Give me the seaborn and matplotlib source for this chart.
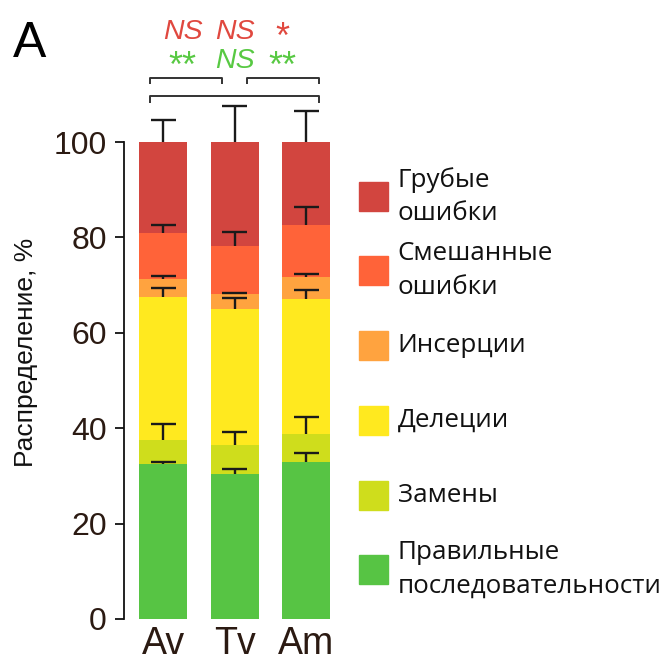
import matplotlib
matplotlib.use("Agg")
import matplotlib.pyplot as plt
import seaborn as sns
import pandas as pd
from matplotlib.patches import Rectangle

# Groups and error categories (bottom to top of each stack)
groups = ["Av", "Tv", "Am"]
categories = ["Правильные\nпоследовательности", "Замены", "Делеции",
              "Инсерции", "Смешанные\nошибки", "Грубые\nошибки"]
colors = ["#57C444", "#CFDD1C", "#FFE91F", "#FFA33F", "#FF6339", "#D2453F"]

# Share of each category, %
correct = [32.5, 30.4, 32.9]
substitutions = [5.1, 6.1, 5.9]
deletions = [30.0, 28.4, 28.2]
insertions = [3.7, 3.2, 4.7]
mixed = [9.7, 10.2, 11.0]
gross = [19.0, 21.7, 17.3]

# Upper error (SEM) for each category
err_correct = [0.4, 1.0, 1.8]
err_substitutions = [3.2, 2.7, 3.5]
err_deletions = [1.8, 2.4, 2.0]
err_insertions = [0.7, 0.3, 0.6]
err_mixed = [1.7, 2.8, 3.7]
err_gross = [4.6, 7.5, 6.6]

# Significance marks between pairs
stars_red = ["NS", "NS", "*"]
stars_green = ["**", "NS", "**"]

values = [correct, substitutions, deletions, insertions, mixed, gross]
errors = [err_correct, err_substitutions, err_deletions, err_insertions, err_mixed, err_gross]

sns.set_style("white")
plt.rcParams["font.family"] = ["Liberation Sans", "DejaVu Sans"]

W, H = 665, 664
fig = plt.figure(figsize=(W / 100, H / 100), dpi=100)
ax = fig.add_axes([124 / W, (H - 619) / H, 221.6 / W, 477 / H])

# cumulative tops of every segment
cum = []
run = [0.0, 0.0, 0.0]
for v in values:
    run = [a + b for a, b in zip(run, v)]
    cum.append(run)

rows = []
for ci, cat in enumerate(categories):
    for gi, g in enumerate(groups):
        rows.append({"group": g, "pos": gi, "category": cat,
                     "top": cum[ci][gi], "err": errors[ci][gi]})
df = pd.DataFrame(rows)

# draw stacks from the top-most segment down so lower ones overlay
for ci in reversed(range(len(categories))):
    sub = df[df["category"] == categories[ci]]
    sns.barplot(data=sub, x="group", y="top", color=colors[ci], order=groups,
                width=0.67, saturation=1, errorbar=None, linewidth=0, ax=ax)

# one-sided error bars: stem up from each segment top, single cap
cap_half = 0.175
for ci in range(len(categories)):
    sub = df[df["category"] == categories[ci]]
    hi = sub["top"] + sub["err"]
    ax.vlines(sub["pos"], sub["top"], hi, color="#1a1a1a", lw=1.7,
              clip_on=False, zorder=5)
    ax.hlines(hi, sub["pos"] - cap_half, sub["pos"] + cap_half,
              color="#1a1a1a", lw=1.7, clip_on=False, zorder=5)

ax.set_xlim(-0.55, 2.55)
ax.set_ylim(0, 100)
ax.set_yticks([0, 20, 40, 60, 80, 100])
ax.tick_params(axis="y", length=6.5, width=1.3, pad=6, labelsize=23,
               labelcolor="#2b1a12", color="#111111", left=True)
ax.tick_params(axis="x", length=0, pad=5, labelsize=27, labelcolor="#2b1a12")
for s in ["top", "right", "bottom"]:
    ax.spines[s].set_visible(False)
ax.spines["left"].set_bounds(0, 100)
ax.spines["left"].set_color("#111111")
ax.spines["left"].set_linewidth(1.3)
ax.set_xlabel("")
ax.set_ylabel("Распределение, %", fontsize=19, color="#111111")
ax.yaxis.set_label_coords(-0.39, 0.56)

# comparison brackets
bk = dict(color="#333333", lw=1.4, clip_on=False, solid_capstyle="butt")
ax.plot([-0.19, -0.19, 0.82, 0.82], [112.1, 113.4, 113.4, 112.1], **bk)
ax.plot([1.17, 1.17, 2.18, 2.18], [112.1, 113.4, 113.4, 112.1], **bk)
ax.plot([-0.19, -0.19, 2.18, 2.18], [108.2, 109.6, 109.6, 108.2], **bk)

mark_x = [0.27, 1.0, 1.67]
for row, y, col in [(stars_red, 123.1, "#E0483F"), (stars_green, 117.0, "#58C943")]:
    for x, t in zip(mark_x, row):
        if "*" in t:
            ax.text(x, y - 1.3, t, ha="center", va="center", fontsize=26,
                    color=col, clip_on=False)
        else:
            ax.text(x, y, t, ha="center", va="center", fontsize=20.5,
                    style="italic", color=col, clip_on=False)

fig.text(13 / W, 1 - 44 / H, "A", fontsize=36, va="center", ha="left", color="#000000")

# legend: swatches with labels, top category first
centers = [196.7, 270.7, 345.7, 420.7, 495.0, 569.3]
for yc, ci in zip(centers, reversed(range(len(categories)))):
    fig.patches.append(Rectangle((359 / W, 1 - (yc + 14.5) / H), 29 / W, 29 / H,
                                 transform=fig.transFigure, color=colors[ci]))
    fig.text(397.7 / W, 1 - yc / H, categories[ci], fontsize=18.7, va="center",
             ha="left", family=["Open Sans", "DejaVu Sans"], linespacing=1.45,
             color="#111111")

fig.savefig("out.png", dpi=100)
